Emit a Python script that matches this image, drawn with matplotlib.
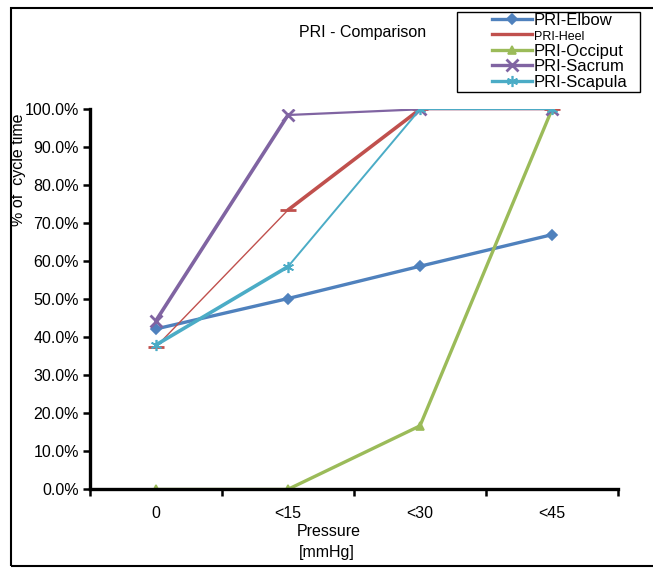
import numpy as np
import matplotlib
matplotlib.use("Agg")
import matplotlib.pyplot as plt
from matplotlib.patches import Rectangle

# data (percent of cycle time)
categories = ["0", "<15", "<30", "<45"]
elbow = [42.2, 50.2, 58.7, 67.0]
heel = [37.5, 73.5, 100.0, 100.0]
occiput = [0.0, 0.0, 16.7, 100.0]
sacrum = [44.4, 98.5, 100.0, 100.0]
scapula = [38.0, 58.6, 100.0, 100.0]
y_ticks = [0, 10, 20, 30, 40, 50, 60, 70, 80, 90, 100]

plt.rcParams['font.family'] = ['Liberation Sans', 'DejaVu Sans']
FS = 11.5

fig = plt.figure(figsize=(6.53, 5.68), dpi=100)
ax = fig.add_axes([90 / 653, 1 - 489.3 / 568, 528 / 653, 380 / 568])

x = np.arange(len(categories))
# name, values, colour, marker, marker size, width of each segment
series = [
    ("PRI-Elbow", elbow, "#4F81BD", "D", 5, [2.4, 2.4, 2.4]),
    ("PRI-Heel", heel, "#C0504D", "_", 12, [1.0, 2.6, 1.0]),
    ("PRI-Occiput", occiput, "#9BBB59", "^", 6, [2.4, 2.4, 2.4]),
    ("PRI-Sacrum", sacrum, "#8064A2", "x", 8, [2.6, 1.6, 1.0]),
    ("PRI-Scapula", scapula, "#4BACC6", (6, 2, 0), 8, [2.6, 1.4, 1.4]),
]
handles = []
for name, vals, col, mk, ms, widths in series:
    for i, w in enumerate(widths):
        ax.plot(x[i:i + 2], vals[i:i + 2], color=col, lw=w, solid_capstyle='round')
    ax.plot(x, vals, color=col, lw=0, marker=mk, markersize=ms,
            markeredgewidth=2 if mk in ("_", "x") else 1.2)
    handles.append(plt.Line2D([], [], color=col, lw=2.4, marker=mk, markersize=ms,
                              markeredgewidth=2 if mk in ("_", "x") else 1.2))

ax.set_xlim(-0.5, len(categories) - 0.5)
ax.set_ylim(0, 100)
ax.set_yticks(y_ticks)
ax.set_yticklabels([f"{v:.1f}%" for v in y_ticks], fontsize=FS)
ax.tick_params(axis='y', direction='out', length=5, width=1.8, pad=3)

# category boundaries as major ticks, labels centred
ax.set_xticks(np.arange(-0.5, len(categories), 1.0))
ax.set_xticklabels([])
ax.set_xticks(x, minor=True)
ax.set_xticklabels(categories, minor=True, fontsize=FS)
ax.tick_params(axis='x', which='major', direction='out', length=5, width=1.8)
ax.tick_params(axis='x', which='minor', length=0, pad=12)

for s in ['top', 'right']:
    ax.spines[s].set_visible(False)
for s in ['left', 'bottom']:
    ax.spines[s].set_linewidth(2.4)

fig.text(363 / 653, 1 - 33 / 568, "PRI - Comparison", ha='center', va='center', fontsize=FS)
fig.text(329 / 653, 1 - 531 / 568, "Pressure", ha='center', va='center', fontsize=FS)
fig.text(327 / 653, 1 - 553 / 568, "[mmHg]", ha='center', va='center', fontsize=FS)
fig.text(19 / 653, 1 - 170 / 568, "% of  cycle time", ha='center', va='center',
         rotation=90, fontsize=FS)

leg = fig.legend(handles, [s[0] for s in series], loc='upper left',
                 bbox_to_anchor=(492 / 653, 1 - 13 / 568),
                 fontsize=FS + 0.5, frameon=False, labelspacing=0.03,
                 handlelength=2.4, handletextpad=0.1, borderpad=0, borderaxespad=0)
leg.get_texts()[1].set_fontsize(9)

# legend box
fig.patches.append(Rectangle((457 / 653, 1 - 92 / 568), 183 / 653, 80 / 568,
                             transform=fig.transFigure, fill=False,
                             edgecolor='black', lw=1.0))

# outer border
fig.patches.append(Rectangle((11 / 653, 2 / 568), 1.0, 1 - 10 / 568,
                             transform=fig.transFigure, fill=False,
                             edgecolor='black', lw=1.5, clip_on=False))

fig.savefig("out.png", dpi=100)
